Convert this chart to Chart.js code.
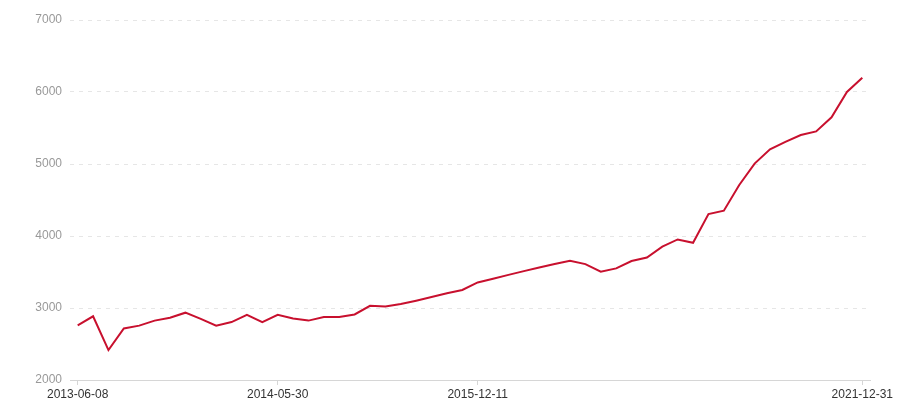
<!DOCTYPE html>
<html>
<head>
<meta charset="utf-8">
<script src="https://cdn.jsdelivr.net/npm/chart.js@4"></script>
<style>
  html, body { margin: 0; padding: 0; background: #fff; }
  #wrap { width: 900px; height: 400px; }
</style>
</head>
<body>
<div id="wrap"><canvas id="chart"></canvas></div>
<script>
// only the dates shown on the axis are known, the rest stay blank
const dates = [
  '2013-06-08', '', '', '', '', '', '', '', '', '', '', '', '',
  '2014-05-30', '', '', '', '', '', '', '', '', '', '', '', '',
  '2015-12-11', '', '', '', '', '', '', '', '', '', '', '', '',
  '', '', '', '', '', '', '', '', '', '', '', '', '2021-12-31'
];

const values = [
  2760, 2885, 2415, 2715, 2755, 2825, 2865, 2935, 2850, 2755, 2805, 2905, 2805,
  2905, 2855, 2825, 2875, 2875, 2910, 3030, 3022, 3055, 3102, 3153, 3204, 3250,
  3355, 3405, 3460, 3512, 3562, 3610, 3655, 3610, 3505, 3550, 3652, 3702, 3852,
  3952, 3905, 4305, 4352, 4708, 5005, 5204, 5308, 5403, 5452, 5648, 6000, 6198
];

const yTicks = [2000, 3000, 4000, 5000, 6000, 7000];

new Chart(document.getElementById('chart'), {
  type: 'line',
  data: {
    labels: dates,
    datasets: [{
      data: values,
      borderColor: '#c8102e',
      borderWidth: 2,
      pointRadius: 0,
      tension: 0,
      fill: false
    }]
  },
  options: {
    responsive: true,
    maintainAspectRatio: false,
    animation: false,
    layout: { padding: { top: 20, right: 30, left: 0, bottom: 0 } },
    plugins: { legend: { display: false }, tooltip: { enabled: false } },
    scales: {
      x: {
        type: 'category',
        offset: true,
        afterBuildTicks: (scale) => {
          scale.ticks = scale.ticks.filter(t => dates[t.value] !== '');
        },
        afterFit: (scale) => { scale.height = 20; },
        grid: {
          offset: false,
          drawOnChartArea: false,
          tickLength: 5,
          color: '#d6d6d6'
        },
        border: { display: true, color: '#d6d6d6', width: 1 },
        ticks: {
          autoSkip: false,
          maxRotation: 0,
          padding: 2,
          color: '#333333',
          font: { family: 'Liberation Sans', size: 12 }
        }
      },
      y: {
        min: yTicks[0],
        max: yTicks[yTicks.length - 1],
        afterBuildTicks: (scale) => {
          scale.ticks = yTicks.map(v => ({ value: v }));
        },
        afterFit: (scale) => { scale.width = 70; },
        grid: {
          drawTicks: false,
          color: (ctx) => ctx.tick && ctx.tick.value === yTicks[0] ? 'rgba(0,0,0,0)' : '#e6e6e6'
        },
        border: { display: false, dash: [4, 5] },
        ticks: {
          padding: 8,
          color: '#999999',
          font: { family: 'Liberation Sans', size: 12 },
          callback: (v) => String(v)
        }
      }
    }
  }
});
</script>
</body>
</html>
